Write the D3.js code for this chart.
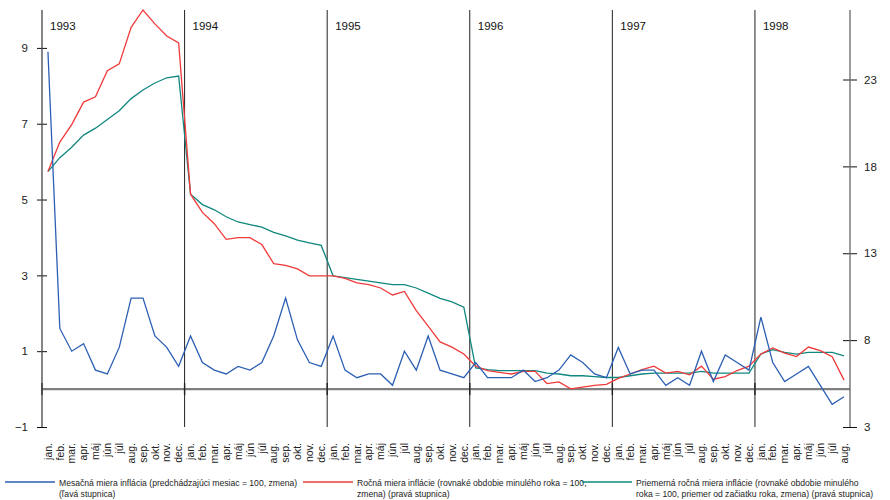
<!DOCTYPE html>
<html>
<head>
<meta charset="utf-8">
<script src="https://cdn.jsdelivr.net/npm/d3@7"></script>
<style>
  body { margin: 0; background: #fff; }
  svg { display: block; font-family: "Liberation Sans", Arial, sans-serif; }
</style>
</head>
<body>
<svg id="chart" width="890" height="500"></svg>
<script>
const years = ["1993", "1994", "1995", "1996", "1997", "1998"];
const monthNames = ["jan.", "feb.", "mar.", "apr.", "máj", "jún", "júl", "aug.", "sep.", "okt.", "nov.", "dec."];
const monthsIn1998 = 8;

// Mesačná miera inflácie (left scale)
const monthly = [
  8.9, 1.6, 1.0, 1.2, 0.5, 0.4, 1.1, 2.4, 2.4, 1.4, 1.1, 0.6,
  1.4, 0.7, 0.5, 0.4, 0.6, 0.5, 0.7, 1.4, 2.4, 1.3, 0.7, 0.6,
  1.4, 0.5, 0.3, 0.4, 0.4, 0.1, 1.0, 0.5, 1.4, 0.5, 0.4, 0.3,
  0.7, 0.3, 0.3, 0.3, 0.5, 0.2, 0.3, 0.5, 0.9, 0.7, 0.4, 0.3,
  1.1, 0.4, 0.5, 0.5, 0.1, 0.3, 0.1, 1.0, 0.2, 0.9, 0.7, 0.5,
  1.9, 0.7, 0.2, 0.4, 0.6, 0.1, -0.4, -0.2
];
// Ročná miera inflácie (right scale)
const annual = [
  17.7, 19.4, 20.4, 21.7, 22.0, 23.5, 23.9, 26.0, 27.0, 26.2, 25.5, 25.1,
  16.4, 15.35, 14.7, 13.8, 13.9, 13.9, 13.5, 12.4, 12.3, 12.1, 11.7, 11.7,
  11.7, 11.55, 11.3, 11.2, 11.0, 10.6, 10.8, 9.7, 8.8, 7.9, 7.6, 7.2,
  6.5, 6.25, 6.15, 6.05, 6.2, 6.2, 5.5, 5.6, 5.2, 5.3, 5.4, 5.45,
  5.8, 6.05, 6.3, 6.5, 6.1, 6.2, 6.0, 6.5, 5.75, 5.9, 6.25, 6.5,
  7.2, 7.55, 7.25, 7.05, 7.6, 7.4, 7.05, 5.7
];
// Priemerná ročná miera inflácie (right scale)
const average = [
  17.7, 18.5, 19.1, 19.8, 20.2, 20.7, 21.2, 21.9, 22.4, 22.8, 23.1, 23.2,
  16.4, 15.8, 15.5, 15.1, 14.8, 14.65, 14.5, 14.2, 14.0, 13.75, 13.6, 13.45,
  11.7, 11.6, 11.5, 11.4, 11.3, 11.2, 11.2, 11.0, 10.7, 10.4, 10.2, 9.9,
  6.4, 6.3, 6.25, 6.25, 6.25, 6.25, 6.1, 6.05, 5.95, 5.95, 5.9, 5.85,
  5.85, 5.95, 6.05, 6.1, 6.1, 6.1, 6.1, 6.2, 6.1, 6.1, 6.1, 6.1,
  7.2, 7.45, 7.3, 7.2, 7.3, 7.3, 7.3, 7.1
];
const leftTicks = [-1, 1, 3, 5, 7, 9];
const rightTicks = [3, 8, 13, 18, 23];
const legendLabels = [
  ["Mesačná miera inflácia (predchádzajúci mesiac = 100, zmena)", "(ľavá stupnica)"],
  ["Ročná miera inflácie (rovnaké obdobie minulého roka = 100,", "zmena) (pravá stupnica)"],
  ["Priemerná ročná miera inflácie (rovnaké obdobie minulého", "roka = 100, priemer od začiatku roka, zmena) (pravá stupnica)"]
];

const colors = ["#2c5fb3", "#f03a3a", "#10877f"];

// month labels per point
const labels = [];
years.forEach((y, yi) => {
  const n = yi === years.length - 1 ? monthsIn1998 : 12;
  for (let m = 0; m < n; m++) labels.push(monthNames[m]);
});
const idx = labels.map((_, i) => i);

const svg = d3.select("#chart");
const x = d3.scalePoint().domain(idx).range([42, 850]).padding(0.5);
const yL = d3.scaleLinear().domain([-1, 10]).range([427, 10]);
const yR = d3.scaleLinear().domain([3, 27]).range([427, 10]);
const step = x.step();

// year separators
const boundaries = years.slice(1).map((_, k) => x((k + 1) * 12) - step / 2);
svg.append("g").selectAll("line").data(boundaries).join("line")
  .attr("x1", d => d).attr("x2", d => d)
  .attr("y1", yL(10)).attr("y2", yL(-1))
  .attr("stroke", "#222").attr("stroke-width", 1);

// year labels
const yearStarts = [x.range()[0]].concat(boundaries);
svg.append("g").selectAll("text").data(years).join("text")
  .attr("x", (d, i) => yearStarts[i] + 8)
  .attr("y", 30)
  .attr("font-size", 11.5)
  .attr("fill", "#111")
  .text(d => d);

// zero line
svg.append("line")
  .attr("x1", 42).attr("x2", 850)
  .attr("y1", yL(0)).attr("y2", yL(0))
  .attr("stroke", "#7f7f7f").attr("stroke-width", 2.2);
// ticks on zero line at year boundaries
svg.append("g").selectAll("line").data([42].concat(boundaries)).join("line")
  .attr("x1", d => d).attr("x2", d => d)
  .attr("y1", yL(0) - 6).attr("y2", yL(0) + 6)
  .attr("stroke", "#222").attr("stroke-width", 1.4);

// left axis
const gL = svg.append("g").attr("transform", "translate(42,0)")
  .call(d3.axisLeft(yL).tickValues(leftTicks).tickSize(5).tickPadding(9).tickFormat(d3.format("d")));
gL.select(".domain").remove();
gL.selectAll(".tick line").attr("x1", 5).attr("stroke", "#111");
gL.selectAll(".tick text").attr("font-size", 11.5).attr("fill", "#222")
  .attr("font-family", "Liberation Sans, Arial, sans-serif");
gL.append("line").attr("y1", yL(10)).attr("y2", yL(-1)).attr("stroke", "#444").attr("stroke-width", 1.3);

// right axis
const gR = svg.append("g").attr("transform", "translate(850,0)")
  .call(d3.axisRight(yR).tickValues(rightTicks).tickSize(7).tickPadding(7).tickFormat(d3.format("d")));
gR.select(".domain").remove();
gR.selectAll(".tick line").attr("x1", -7).attr("stroke", "#111");
gR.selectAll(".tick text").attr("font-size", 11.5).attr("fill", "#222")
  .attr("font-family", "Liberation Sans, Arial, sans-serif");
gR.append("line").attr("y1", yR(27)).attr("y2", yR(3)).attr("stroke", "#666").attr("stroke-width", 1.3);

// series
const lineL = d3.line().x((d, i) => x(i)).y(d => yL(d));
const lineR = d3.line().x((d, i) => x(i)).y(d => yR(d));
svg.append("path").datum(average).attr("d", lineR)
  .attr("fill", "none").attr("stroke", colors[2]).attr("stroke-width", 1.3);
svg.append("path").datum(annual).attr("d", lineR)
  .attr("fill", "none").attr("stroke", colors[1]).attr("stroke-width", 1.3);
svg.append("path").datum(monthly).attr("d", lineL)
  .attr("fill", "none").attr("stroke", colors[0]).attr("stroke-width", 1.3);

// month labels
svg.append("g").selectAll("text").data(labels).join("text")
  .attr("transform", (d, i) => `translate(${x(i)},443) rotate(-90)`)
  .attr("text-anchor", "end")
  .attr("dy", "0.35em")
  .attr("font-size", 10.5)
  .attr("fill", "#222")
  .text(d => d);

// legend
const legendX = [5, 303, 582];
const lg = svg.append("g").selectAll("g").data(legendLabels).join("g")
  .attr("transform", (d, i) => `translate(${legendX[i]},0)`);
lg.append("line").attr("x1", 0).attr("x2", 50).attr("y1", 482).attr("y2", 482)
  .attr("stroke", (d, i) => colors[i]).attr("stroke-width", 1.5);
lg.each(function(d) {
  const t = d3.select(this).append("text").attr("font-size", 8.6).attr("fill", "#222");
  d.forEach((line, j) => t.append("tspan").attr("x", 54).attr("y", 486 + j * 11).text(line));
});
</script>
</body>
</html>
